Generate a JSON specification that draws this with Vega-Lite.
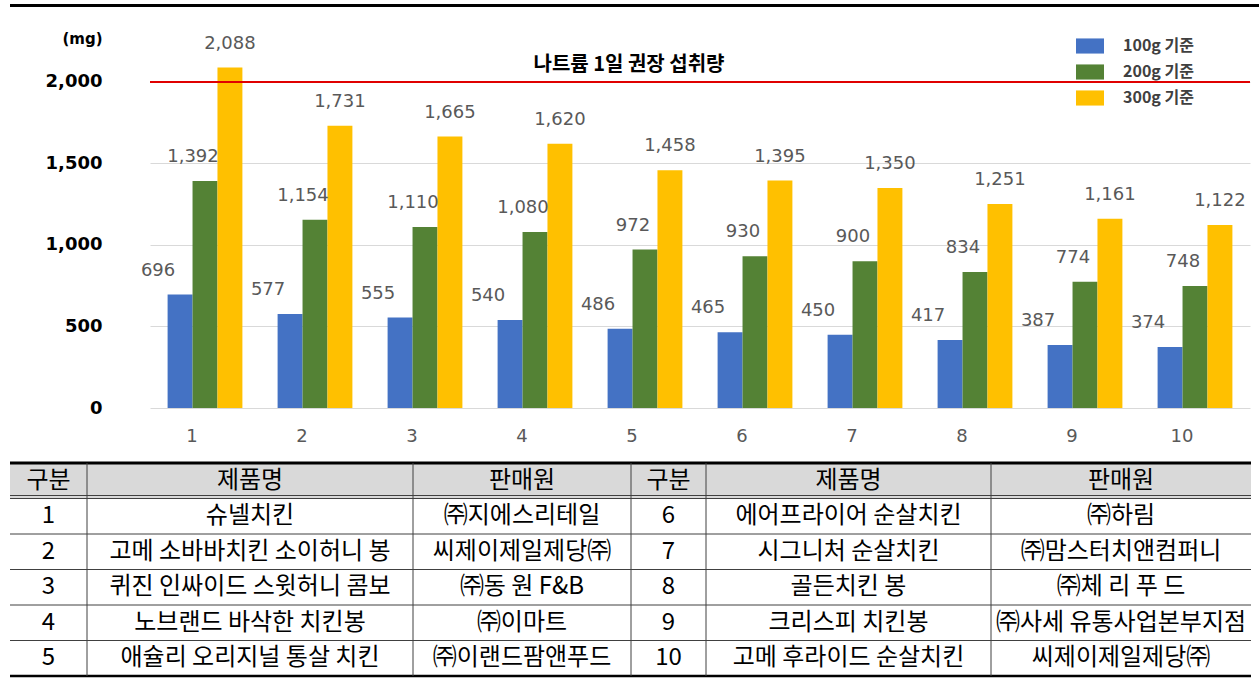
{
  "$schema": "https://vega.github.io/schema/vega-lite/v6.json",
  "padding": {"left": 8, "top": 0, "right": 0, "bottom": 0},
  "background": "white",
  "datasets": {
    "sodium": [
      {"no": "1", "basis": "100g 기준", "mg": 696}, {"no": "1", "basis": "200g 기준", "mg": 1392}, {"no": "1", "basis": "300g 기준", "mg": 2088},
      {"no": "2", "basis": "100g 기준", "mg": 577}, {"no": "2", "basis": "200g 기준", "mg": 1154}, {"no": "2", "basis": "300g 기준", "mg": 1731},
      {"no": "3", "basis": "100g 기준", "mg": 555}, {"no": "3", "basis": "200g 기준", "mg": 1110}, {"no": "3", "basis": "300g 기준", "mg": 1665},
      {"no": "4", "basis": "100g 기준", "mg": 540}, {"no": "4", "basis": "200g 기준", "mg": 1080}, {"no": "4", "basis": "300g 기준", "mg": 1620},
      {"no": "5", "basis": "100g 기준", "mg": 486}, {"no": "5", "basis": "200g 기준", "mg": 972}, {"no": "5", "basis": "300g 기준", "mg": 1458},
      {"no": "6", "basis": "100g 기준", "mg": 465}, {"no": "6", "basis": "200g 기준", "mg": 930}, {"no": "6", "basis": "300g 기준", "mg": 1395},
      {"no": "7", "basis": "100g 기준", "mg": 450}, {"no": "7", "basis": "200g 기준", "mg": 900}, {"no": "7", "basis": "300g 기준", "mg": 1350},
      {"no": "8", "basis": "100g 기준", "mg": 417}, {"no": "8", "basis": "200g 기준", "mg": 834}, {"no": "8", "basis": "300g 기준", "mg": 1251},
      {"no": "9", "basis": "100g 기준", "mg": 387}, {"no": "9", "basis": "200g 기준", "mg": 774}, {"no": "9", "basis": "300g 기준", "mg": 1161},
      {"no": "10", "basis": "100g 기준", "mg": 374}, {"no": "10", "basis": "200g 기준", "mg": 748}, {"no": "10", "basis": "300g 기준", "mg": 1122}
    ],
    "products": [
      {"no": "1", "name": "슈넬치킨", "seller": "㈜지에스리테일"},
      {"no": "2", "name": "고메 소바바치킨 소이허니 봉", "seller": "씨제이제일제당㈜"},
      {"no": "3", "name": "퀴진 인싸이드 스윗허니 콤보", "seller": "㈜동 원  F&B"},
      {"no": "4", "name": "노브랜드 바삭한 치킨봉", "seller": "㈜이마트"},
      {"no": "5", "name": "애슐리 오리지널 통살 치킨", "seller": "㈜이랜드팜앤푸드"},
      {"no": "6", "name": "에어프라이어 순살치킨", "seller": "㈜하림"},
      {"no": "7", "name": "시그니처 순살치킨", "seller": "㈜맘스터치앤컴퍼니"},
      {"no": "8", "name": "골든치킨 봉", "seller": "㈜체 리 푸 드"},
      {"no": "9", "name": "크리스피 치킨봉", "seller": "㈜사세 유통사업본부지점"},
      {"no": "10", "name": "고메 후라이드 순살치킨", "seller": "씨제이제일제당㈜"}
    ]
  },
  "spacing": 16,
  "vconcat": [
    {
      "spacing": 21,
      "vconcat": [
        {
          "width": 1250, "height": 10,
          "data": {"values": [{}]},
          "mark": {"type": "rule", "color": "#000000", "strokeWidth": 3},
          "encoding": {"y": {"value": 5.5}}
        },
        {
          "spacing": 0,
          "hconcat": [
            {
              "width": 1, "height": 375,
              "data": {"values": [{}]},
              "mark": {"type": "text"},
              "encoding": {"text": {"value": ""}}
            },
            {
              "width": 1100, "height": 375,
              "layer": [
                {
                  "data": {"name": "sodium"},
                  "mark": {"type": "bar"},
                  "encoding": {
                    "x": {"field": "no", "type": "ordinal",
                      "scale": {"domain": ["1","2","3","4","5","6","7","8","9","10"], "paddingInner": 0.32, "paddingOuter": 0.16},
                      "axis": {"title": null, "labelAngle": 0, "domain": false, "ticks": false, "labelPadding": 19, "labelOffset": -13, "labelFont": "DejaVu Sans", "labelFontSize": 18, "labelColor": "#595959"}},
                    "xOffset": {"field": "basis", "type": "nominal", "scale": {"paddingInner": 0, "paddingOuter": 0}},
                    "y": {"field": "mg", "type": "quantitative",
                      "scale": {"domain": [0, 2300], "nice": false},
                      "axis": {"title": "(mg)", "values": [0, 500, 1000, 1500, 2000], "format": ",.0f"}},
                    "color": {"field": "basis", "type": "nominal",
                      "scale": {"domain": ["100g 기준", "200g 기준", "300g 기준"], "range": ["#4472C4", "#548235", "#FFC000"]},
                      "legend": {"title": null, "orient": "none", "legendX": 1066, "legendY": 32, "padding": 0, "symbolType": "M-1,-0.54H1V0.54H-1Z", "symbolSize": 784, "symbolStrokeWidth": 0, "labelFont": "Noto Sans CJK KR", "labelFontSize": 16, "labelFontWeight": "bold", "labelColor": "#404040", "labelOffset": 19, "rowPadding": 4}}
                  }
                },
                {
                  "data": {"values": [{}]},
                  "mark": {"type": "rule", "color": "#E00000", "strokeWidth": 2},
                  "encoding": {"y": {"datum": 2000, "type": "quantitative"}}
                },
                {
                  "data": {"values": [{}]},
                  "mark": {"type": "text", "font": "Noto Sans CJK KR", "fontSize": 20, "fontWeight": "bold", "color": "#000000", "dy": -17, "dx": -16},
                  "encoding": {"x": {"datum": "5", "type": "ordinal"}, "y": {"datum": 2000, "type": "quantitative"}, "text": {"value": "나트륨 1일 권장 섭취량"}}
                },
                {
                  "data": {"name": "sodium"},
                  "transform": [{"filter": "datum.basis == '100g 기준'"}],
                  "mark": {"type": "text", "font": "DejaVu Sans", "fontSize": 18, "color": "#595959", "dy": -24, "dx": -22},
                  "encoding": {"x": {"field": "no", "type": "ordinal"}, "xOffset": {"field": "basis", "type": "nominal"}, "y": {"field": "mg", "type": "quantitative"}, "text": {"field": "mg", "type": "quantitative", "format": ","}}
                },
                {
                  "data": {"name": "sodium"},
                  "transform": [{"filter": "datum.basis == '200g 기준'"}],
                  "mark": {"type": "text", "font": "DejaVu Sans", "fontSize": 18, "color": "#595959", "dy": -24, "dx": -12},
                  "encoding": {"x": {"field": "no", "type": "ordinal"}, "xOffset": {"field": "basis", "type": "nominal"}, "y": {"field": "mg", "type": "quantitative"}, "text": {"field": "mg", "type": "quantitative", "format": ","}}
                },
                {
                  "data": {"name": "sodium"},
                  "transform": [{"filter": "datum.basis == '300g 기준'"}],
                  "mark": {"type": "text", "font": "DejaVu Sans", "fontSize": 18, "color": "#595959", "dy": -24, "dx": 0},
                  "encoding": {"x": {"field": "no", "type": "ordinal"}, "xOffset": {"field": "basis", "type": "nominal"}, "y": {"field": "mg", "type": "quantitative"}, "text": {"field": "mg", "type": "quantitative", "format": ","}}
                }
              ]
            }
          ]
        }
      ]
    },
    {
      "bounds": "flush",
      "spacing": 0,
      "hconcat": [
        {
          "width": 77, "height": 213,
          "layer": [
            {"data": {"values": [{}]}, "mark": {"type": "rect", "color": "#D9D9D9"}, "encoding": {"y": {"datum": "h", "type": "ordinal", "scale": {"domain": ["h","1","2","3","4","5"], "paddingInner": 0, "paddingOuter": 0}, "axis": null}}},
            {"data": {"name": "products"}, "transform": [{"filter": "toNumber(datum.no) <= 5"}], "mark": {"type": "rule", "color": "#404040", "strokeWidth": 1}, "encoding": {"y": {"field": "no", "type": "ordinal", "bandPosition": 0}}},
            {"data": {"values": [{}]}, "mark": {"type": "rule", "color": "#404040", "strokeWidth": 1, "yOffset": -3}, "encoding": {"y": {"datum": "1", "type": "ordinal", "bandPosition": 0}}},
            {"data": {"values": [{}]}, "mark": {"type": "rule", "color": "#000000", "strokeWidth": 3}, "encoding": {"y": {"datum": "h", "type": "ordinal", "bandPosition": 0}}},
            {"data": {"values": [{}]}, "mark": {"type": "rule", "color": "#000000", "strokeWidth": 2.5}, "encoding": {"y": {"datum": "5", "type": "ordinal", "bandPosition": 1}}},
            {"data": {"name": "products"}, "transform": [{"filter": "toNumber(datum.no) <= 5"}], "mark": {"type": "text", "font": "Noto Sans CJK KR", "fontSize": 24, "color": "#000000"}, "encoding": {"y": {"field": "no", "type": "ordinal"}, "text": {"field": "no"}}},
            {"data": {"values": [{}]}, "mark": {"type": "text", "font": "Noto Sans CJK KR", "fontSize": 24, "color": "#000000"}, "encoding": {"y": {"datum": "h", "type": "ordinal"}, "text": {"value": "구분"}}}
          ]
        },
        {
          "width": 326, "height": 213,
          "layer": [
            {"data": {"values": [{}]}, "mark": {"type": "rect", "color": "#D9D9D9"}, "encoding": {"y": {"datum": "h", "type": "ordinal", "scale": {"domain": ["h","1","2","3","4","5"], "paddingInner": 0, "paddingOuter": 0}, "axis": null}}},
            {"data": {"name": "products"}, "transform": [{"filter": "toNumber(datum.no) <= 5"}], "mark": {"type": "rule", "color": "#404040", "strokeWidth": 1}, "encoding": {"y": {"field": "no", "type": "ordinal", "bandPosition": 0}}},
            {"data": {"values": [{}]}, "mark": {"type": "rule", "color": "#404040", "strokeWidth": 1, "yOffset": -3}, "encoding": {"y": {"datum": "1", "type": "ordinal", "bandPosition": 0}}},
            {"data": {"values": [{}]}, "mark": {"type": "rule", "color": "#000000", "strokeWidth": 3}, "encoding": {"y": {"datum": "h", "type": "ordinal", "bandPosition": 0}}},
            {"data": {"values": [{}]}, "mark": {"type": "rule", "color": "#000000", "strokeWidth": 2.5}, "encoding": {"y": {"datum": "5", "type": "ordinal", "bandPosition": 1}}},
            {"data": {"values": [{}]}, "mark": {"type": "rule", "color": "#404040", "strokeWidth": 1}, "encoding": {"x": {"value": 0}}},
            {"data": {"name": "products"}, "transform": [{"filter": "toNumber(datum.no) <= 5"}], "mark": {"type": "text", "font": "Noto Sans CJK KR", "fontSize": 24, "color": "#000000"}, "encoding": {"y": {"field": "no", "type": "ordinal"}, "text": {"field": "name"}}},
            {"data": {"values": [{}]}, "mark": {"type": "text", "font": "Noto Sans CJK KR", "fontSize": 24, "color": "#000000"}, "encoding": {"y": {"datum": "h", "type": "ordinal"}, "text": {"value": "제품명"}}}
          ]
        },
        {
          "width": 218, "height": 213,
          "layer": [
            {"data": {"values": [{}]}, "mark": {"type": "rect", "color": "#D9D9D9"}, "encoding": {"y": {"datum": "h", "type": "ordinal", "scale": {"domain": ["h","1","2","3","4","5"], "paddingInner": 0, "paddingOuter": 0}, "axis": null}}},
            {"data": {"name": "products"}, "transform": [{"filter": "toNumber(datum.no) <= 5"}], "mark": {"type": "rule", "color": "#404040", "strokeWidth": 1}, "encoding": {"y": {"field": "no", "type": "ordinal", "bandPosition": 0}}},
            {"data": {"values": [{}]}, "mark": {"type": "rule", "color": "#404040", "strokeWidth": 1, "yOffset": -3}, "encoding": {"y": {"datum": "1", "type": "ordinal", "bandPosition": 0}}},
            {"data": {"values": [{}]}, "mark": {"type": "rule", "color": "#000000", "strokeWidth": 3}, "encoding": {"y": {"datum": "h", "type": "ordinal", "bandPosition": 0}}},
            {"data": {"values": [{}]}, "mark": {"type": "rule", "color": "#000000", "strokeWidth": 2.5}, "encoding": {"y": {"datum": "5", "type": "ordinal", "bandPosition": 1}}},
            {"data": {"values": [{}]}, "mark": {"type": "rule", "color": "#404040", "strokeWidth": 1}, "encoding": {"x": {"value": 0}}},
            {"data": {"name": "products"}, "transform": [{"filter": "toNumber(datum.no) <= 5"}], "mark": {"type": "text", "font": "Noto Sans CJK KR", "fontSize": 24, "color": "#000000"}, "encoding": {"y": {"field": "no", "type": "ordinal"}, "text": {"field": "seller"}}},
            {"data": {"values": [{}]}, "mark": {"type": "text", "font": "Noto Sans CJK KR", "fontSize": 24, "color": "#000000"}, "encoding": {"y": {"datum": "h", "type": "ordinal"}, "text": {"value": "판매원"}}}
          ]
        },
        {
          "width": 75, "height": 213,
          "layer": [
            {"data": {"values": [{}]}, "mark": {"type": "rect", "color": "#D9D9D9"}, "encoding": {"y": {"datum": "h", "type": "ordinal", "scale": {"domain": ["h","6","7","8","9","10"], "paddingInner": 0, "paddingOuter": 0}, "axis": null}}},
            {"data": {"name": "products"}, "transform": [{"filter": "toNumber(datum.no) > 5"}], "mark": {"type": "rule", "color": "#404040", "strokeWidth": 1}, "encoding": {"y": {"field": "no", "type": "ordinal", "bandPosition": 0}}},
            {"data": {"values": [{}]}, "mark": {"type": "rule", "color": "#404040", "strokeWidth": 1, "yOffset": -3}, "encoding": {"y": {"datum": "6", "type": "ordinal", "bandPosition": 0}}},
            {"data": {"values": [{}]}, "mark": {"type": "rule", "color": "#000000", "strokeWidth": 3}, "encoding": {"y": {"datum": "h", "type": "ordinal", "bandPosition": 0}}},
            {"data": {"values": [{}]}, "mark": {"type": "rule", "color": "#000000", "strokeWidth": 2.5}, "encoding": {"y": {"datum": "10", "type": "ordinal", "bandPosition": 1}}},
            {"data": {"values": [{}]}, "mark": {"type": "rule", "color": "#404040", "strokeWidth": 1}, "encoding": {"x": {"value": 0}}},
            {"data": {"name": "products"}, "transform": [{"filter": "toNumber(datum.no) > 5"}], "mark": {"type": "text", "font": "Noto Sans CJK KR", "fontSize": 24, "color": "#000000"}, "encoding": {"y": {"field": "no", "type": "ordinal"}, "text": {"field": "no"}}},
            {"data": {"values": [{}]}, "mark": {"type": "text", "font": "Noto Sans CJK KR", "fontSize": 24, "color": "#000000"}, "encoding": {"y": {"datum": "h", "type": "ordinal"}, "text": {"value": "구분"}}}
          ]
        },
        {
          "width": 285, "height": 213,
          "layer": [
            {"data": {"values": [{}]}, "mark": {"type": "rect", "color": "#D9D9D9"}, "encoding": {"y": {"datum": "h", "type": "ordinal", "scale": {"domain": ["h","6","7","8","9","10"], "paddingInner": 0, "paddingOuter": 0}, "axis": null}}},
            {"data": {"name": "products"}, "transform": [{"filter": "toNumber(datum.no) > 5"}], "mark": {"type": "rule", "color": "#404040", "strokeWidth": 1}, "encoding": {"y": {"field": "no", "type": "ordinal", "bandPosition": 0}}},
            {"data": {"values": [{}]}, "mark": {"type": "rule", "color": "#404040", "strokeWidth": 1, "yOffset": -3}, "encoding": {"y": {"datum": "6", "type": "ordinal", "bandPosition": 0}}},
            {"data": {"values": [{}]}, "mark": {"type": "rule", "color": "#000000", "strokeWidth": 3}, "encoding": {"y": {"datum": "h", "type": "ordinal", "bandPosition": 0}}},
            {"data": {"values": [{}]}, "mark": {"type": "rule", "color": "#000000", "strokeWidth": 2.5}, "encoding": {"y": {"datum": "10", "type": "ordinal", "bandPosition": 1}}},
            {"data": {"values": [{}]}, "mark": {"type": "rule", "color": "#404040", "strokeWidth": 1}, "encoding": {"x": {"value": 0}}},
            {"data": {"name": "products"}, "transform": [{"filter": "toNumber(datum.no) > 5"}], "mark": {"type": "text", "font": "Noto Sans CJK KR", "fontSize": 24, "color": "#000000"}, "encoding": {"y": {"field": "no", "type": "ordinal"}, "text": {"field": "name"}}},
            {"data": {"values": [{}]}, "mark": {"type": "text", "font": "Noto Sans CJK KR", "fontSize": 24, "color": "#000000"}, "encoding": {"y": {"datum": "h", "type": "ordinal"}, "text": {"value": "제품명"}}}
          ]
        },
        {
          "width": 260, "height": 213,
          "layer": [
            {"data": {"values": [{}]}, "mark": {"type": "rect", "color": "#D9D9D9"}, "encoding": {"y": {"datum": "h", "type": "ordinal", "scale": {"domain": ["h","6","7","8","9","10"], "paddingInner": 0, "paddingOuter": 0}, "axis": null}}},
            {"data": {"name": "products"}, "transform": [{"filter": "toNumber(datum.no) > 5"}], "mark": {"type": "rule", "color": "#404040", "strokeWidth": 1}, "encoding": {"y": {"field": "no", "type": "ordinal", "bandPosition": 0}}},
            {"data": {"values": [{}]}, "mark": {"type": "rule", "color": "#404040", "strokeWidth": 1, "yOffset": -3}, "encoding": {"y": {"datum": "6", "type": "ordinal", "bandPosition": 0}}},
            {"data": {"values": [{}]}, "mark": {"type": "rule", "color": "#000000", "strokeWidth": 3}, "encoding": {"y": {"datum": "h", "type": "ordinal", "bandPosition": 0}}},
            {"data": {"values": [{}]}, "mark": {"type": "rule", "color": "#000000", "strokeWidth": 2.5}, "encoding": {"y": {"datum": "10", "type": "ordinal", "bandPosition": 1}}},
            {"data": {"values": [{}]}, "mark": {"type": "rule", "color": "#404040", "strokeWidth": 1}, "encoding": {"x": {"value": 0}}},
            {"data": {"name": "products"}, "transform": [{"filter": "toNumber(datum.no) > 5"}], "mark": {"type": "text", "font": "Noto Sans CJK KR", "fontSize": 24, "color": "#000000"}, "encoding": {"y": {"field": "no", "type": "ordinal"}, "text": {"field": "seller"}}},
            {"data": {"values": [{}]}, "mark": {"type": "text", "font": "Noto Sans CJK KR", "fontSize": 24, "color": "#000000"}, "encoding": {"y": {"datum": "h", "type": "ordinal"}, "text": {"value": "판매원"}}}
          ]
        }
      ]
    }
  ],
  "config": {
    "view": {"stroke": null},
    "font": "Noto Sans CJK KR",
    "axisY": {"format": ",.0f", "titleAngle": 0, "titleX": -48, "titleY": 5, "titleAlign": "right", "titleBaseline": "middle", "titleFont": "DejaVu Sans", "titleFontSize": 15, "titleFontWeight": "bold", "titleColor": "#000000",
      "domain": false, "ticks": false, "labelPadding": 48, "minExtent": 139, "labelFont": "DejaVu Sans", "labelFontSize": 18, "labelFontWeight": "bold", "labelColor": "#000000", "gridColor": "#D9D9D9", "gridWidth": 1}
  }
}
